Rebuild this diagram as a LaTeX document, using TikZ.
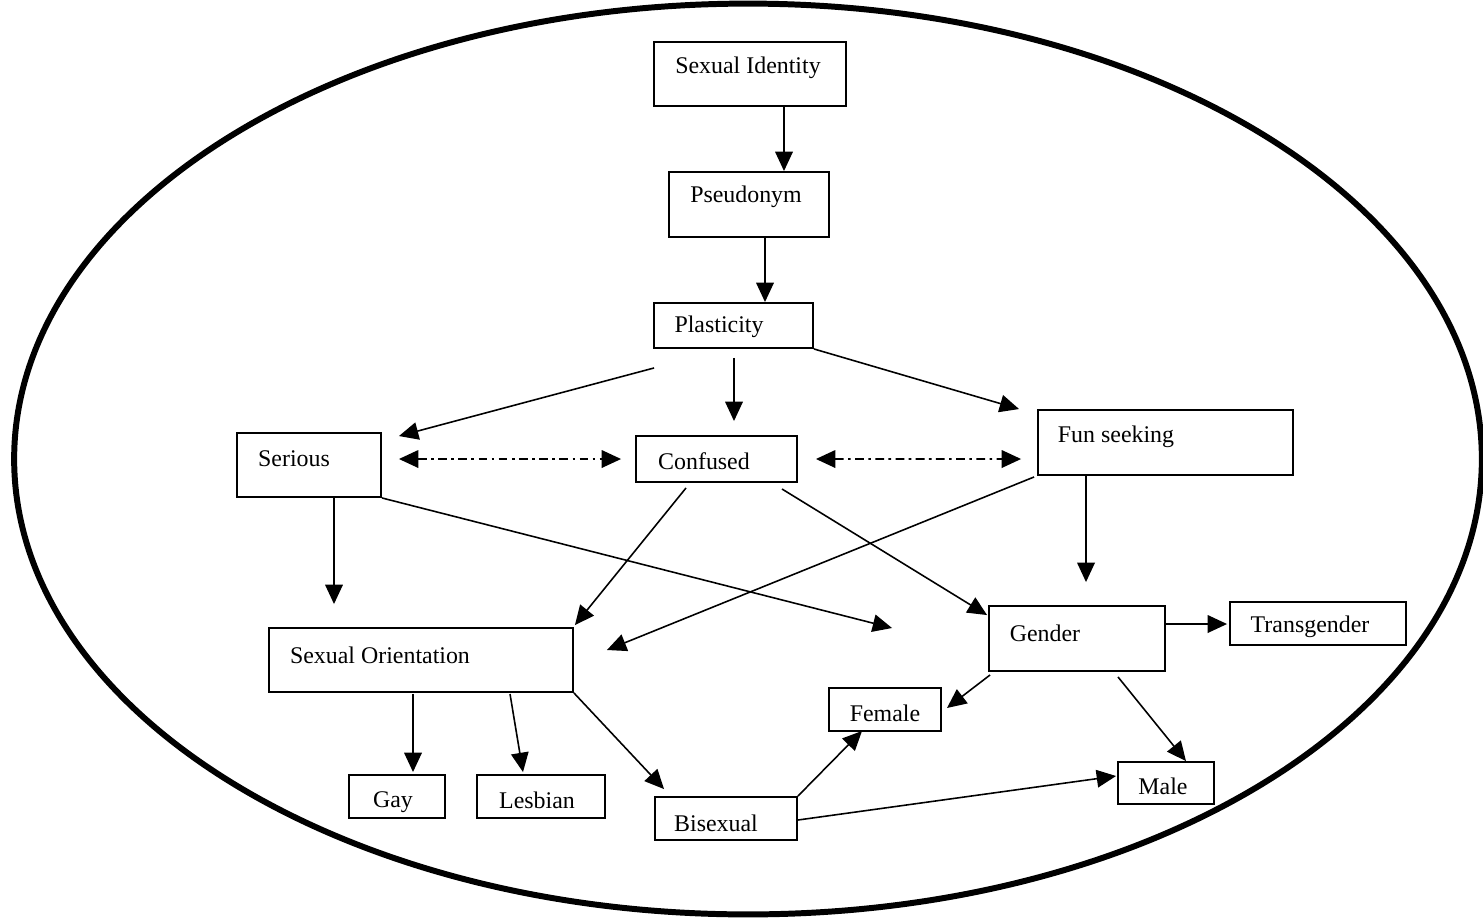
\documentclass[tikz,border=0pt]{standalone}
\usepackage{fontspec}
\setmainfont{Liberation Serif}
\usetikzlibrary{arrows.meta,calc}

\begin{document}
\begin{tikzpicture}[x=0.02cm, y=-0.02cm,
	box/.style={draw=black, shape=rectangle, line width=1.1pt, inner sep=0pt},
	lbl/.style={text=black, inner sep=0pt, font=\fontsize{13.6}{16}\selectfont},
	arr/.style={line width=0.9pt, -{Triangle[length=11pt,width=10pt]}},
	dda/.style={line width=0.9pt, {Triangle[length=11pt,width=10pt]}-{Triangle[length=11pt,width=10pt]}, dash pattern=on 5pt off 2.5pt on 1.5pt off 2.5pt}]
	\useasboundingbox (0,0) rectangle (1483,920);
	\draw[line width=3.4pt] (748,459) ellipse [x radius=14.68cm, y radius=9.11cm];

	\node[box, minimum width=3.84cm, minimum height=1.28cm] (ident) at (750,74) {};
	\node[box, minimum width=3.2cm, minimum height=1.3cm] (pseu) at (749,204.5) {};
	\node[box, minimum width=3.18cm, minimum height=0.9cm] (plas) at (733.5,325.5) {};
	\node[box, minimum width=2.88cm, minimum height=1.28cm] (serious) at (309,465) {};
	\node[box, minimum width=3.22cm, minimum height=0.92cm] (conf) at (716.5,459) {};
	\node[box, minimum width=5.1cm, minimum height=1.3cm] (fun) at (1165.5,442.5) {};
	\node[box, minimum width=6.08cm, minimum height=1.28cm] (sexo) at (421,660) {};
	\node[box, minimum width=3.52cm, minimum height=1.3cm] (gender) at (1077,638.5) {};
	\node[box, minimum width=3.52cm, minimum height=0.86cm] (trans) at (1318,623.5) {};
	\node[box, minimum width=2.24cm, minimum height=0.86cm] (female) at (885,709.5) {};
	\node[box, minimum width=1.92cm, minimum height=0.86cm] (gay) at (397,796.5) {};
	\node[box, minimum width=2.56cm, minimum height=0.86cm] (lesb) at (541,796.5) {};
	\node[box, minimum width=2.84cm, minimum height=0.86cm] (bisex) at (726,818.5) {};
	\node[box, minimum width=1.92cm, minimum height=0.84cm] (male) at (1166,783) {};

	\node[lbl] (ident_t) at (748,68) {Sexual Identity};
	\node[lbl] (pseu_t) at (746,197) {Pseudonym};
	\node[lbl] (plas_t) at (719,327) {Plasticity};
	\node[lbl] (serious_t) at (294,459) {Serious};
	\node[lbl] (conf_t) at (704,461) {Confused};
	\node[lbl] (fun_t) at (1116,437) {Fun seeking};
	\node[lbl] (sexo_t) at (380,655) {Sexual Orientation};
	\node[lbl] (gender_t) at (1045,633) {Gender};
	\node[lbl] (trans_t) at (1310,627) {Transgender};
	\node[lbl] (female_t) at (885,713) {Female};
	\node[lbl] (gay_t) at (393,802.5) {Gay};
	\node[lbl] (lesb_t) at (537,800) {Lesbian};
	\node[lbl] (bisex_t) at (716,823) {Bisexual};
	\node[lbl] (male_t) at (1163,786) {Male};

	\draw[arr] ($(ident.south)+(34,0)$) -- ($(pseu.north)+(35,0)$);
	\draw[arr] ($(pseu.south)+(16,0)$) -- ($(plas.north)+(31.5,0)$);
	\draw[arr] ($(plas.south west)+(1,19)$) -- ($(serious.north east)+(17,4)$);
	\draw[arr] ($(plas.south)+(0.5,9)$) -- ($(conf.north)+(17.5,-14)$);
	\draw[arr] (plas.south east) -- ($(fun.north west)+(-18,0)$);
	\draw[dda] ($(serious.east)+(17,-6)$) -- ($(conf.west)+(-14,0)$);
	\draw[dda] ($(conf.east)+(18,0)$) -- ($(fun.west)+(-16,16.5)$);
	\draw[arr] ($(serious.south)+(25,0)$) -- ($(sexo.north)+(-87,-23)$);
	\draw[arr] (serious.south east) -- ($(gender.west)+(-96,-10.5)$);
	\draw[arr] ($(conf.south)+(-30.5,5)$) -- ($(sexo.north east)+(1,-2)$);
	\draw[arr] ($(conf.south east)+(-16,6)$) -- ($(gender.north west)+(-1,10)$);
	\draw[arr] ($(fun.south west)+(-3,1)$) -- ($(sexo.east)+(33,-10)$);
	\draw[arr] ($(fun.south)+(-79.5,0)$) -- ($(gender.north)+(9,-23)$);
	\draw[arr] ($(gender.east)+(0,-14.5)$) -- ($(trans.west)+(-2,0.5)$);
	\draw[arr] ($(gender.south west)+(2,3)$) -- ($(female.east)+(5,-1.5)$);
	\draw[arr] ($(gender.south)+(41,5)$) -- ($(male.north)+(20,0)$);
	\draw[arr] ($(sexo.south)+(-8,1)$) -- ($(gay.north)+(16,-2)$);
	\draw[arr] ($(sexo.south)+(89,1)$) -- ($(lesb.north)+(-18,-2)$);
	\draw[arr] (sexo.south east) -- ($(bisex.north west)+(10,-7)$);
	\draw[arr] (bisex.north east) -- ($(female.south)+(-23,-1)$);
	\draw[arr] ($(bisex.east)+(0,1.5)$) -- ($(male.west)+(-1,-7)$);
\end{tikzpicture}
\end{document}
